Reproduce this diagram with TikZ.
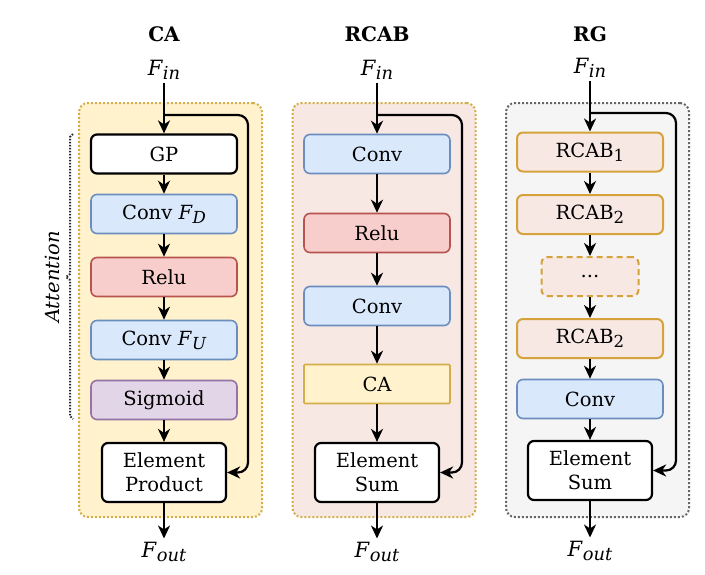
\documentclass[tikz,border=0pt]{standalone}
\usepackage{fontspec}
\setmainfont{DejaVu Serif}
\usepackage{tikz}
\usetikzlibrary{arrows.meta,positioning,backgrounds}

\definecolor{cafill}{HTML}{FFF2CC}
\definecolor{cadraw}{HTML}{D4AE4A}
\definecolor{rcabfill}{HTML}{F8E8E3}
\definecolor{rcabdraw}{HTML}{D6A23C}
\definecolor{rgfill}{HTML}{F5F5F5}
\definecolor{rgdraw}{HTML}{666666}
\definecolor{convfill}{HTML}{DAE8FC}
\definecolor{convdraw}{HTML}{6C8EBF}
\definecolor{relufill}{HTML}{F8CECC}
\definecolor{reludraw}{HTML}{B85450}
\definecolor{sigfill}{HTML}{E1D5E7}
\definecolor{sigdraw}{HTML}{9673A6}

% large subscripts
\newcommand{\bigsub}[1]{\raisebox{-0.4ex}{\scalebox{0.85}{#1}}}
\newcommand{\fvar}[2]{\textit{#1}\bigsub{\textit{#2}}}

\begin{document}
\begin{tikzpicture}[x=1pt,y=-1pt,
		font=\fontsize{19.5}{24}\selectfont,
		block/.style={draw,rounded corners=6pt,minimum width=146pt,minimum height=39pt,line width=1.6pt,inner sep=2pt},
		plain/.style={block,fill=white,line width=2.2pt},
		merge/.style={plain,align=center,minimum width=124pt,minimum height=59pt},
		conv/.style={block,fill=convfill,draw=convdraw},
		relu/.style={block,fill=relufill,draw=reludraw},
		sigm/.style={block,fill=sigfill,draw=sigdraw},
		cabox/.style={block,rounded corners=1pt,fill=cafill,draw=cadraw},
		rcab/.style={block,fill=rcabfill,draw=rcabdraw,line width=2pt},
		panel/.style={rounded corners=9pt,line width=2pt,dash pattern=on 2pt off 2pt,minimum width=183pt,minimum height=414pt},
		io/.style={font=\fontsize{21}{26}\selectfont},
		title/.style={font=\fontsize{20}{24}\selectfont\bfseries},
		flow/.style={-{Stealth[length=13pt,width=12pt,inset=4pt]},line width=2.2pt},
		attn/.style={line width=2pt,dash pattern=on 1.5pt off 1.5pt,draw=black!85}]
		\useasboundingbox (0,0) rectangle (705,574);
		
		% Draw panels
		\node[panel,fill=cafill,draw=cadraw] (capanel) at (170.5,310) {};
		\node[panel,fill=rcabfill,draw=cadraw] (rcabpanel) at (384,310) {};
		\node[panel,fill=rgfill,draw=rgdraw] (rgpanel) at (597.5,310) {};
		
		% CA
		\node[title] (catitle) at (164,34) {CA};
		\node[io] (cain) at (164,70) {\fvar{F}{in}};
		\node[plain] (gp) at (164,154) {GP};
		\node[conv] (convd) at (164,214) {Conv \fvar{F}{D}};
		\node[relu] (carelu) at (164,277) {Relu};
		\node[conv] (convu) at (164,340) {Conv \fvar{F}{U}};
		\node[sigm] (sigmoid) at (164,400) {Sigmoid};
		\node[merge] (prod) at (164,472.5) {Element\\Product};
		\node[io] (caout) at (164,552) {\fvar{F}{out}};
		\coordinate (caskip) at (164,115);
		\coordinate (caR) at (248,115);
		
		\foreach \a/\b in {cain/gp,gp/convd,convd/carelu,carelu/convu,convu/sigmoid,sigmoid/prod,prod/caout}
		\draw[flow] (\a) -- (\b);
		\draw[flow,rounded corners=10pt] (caskip) -- (caR) |- (prod.east);
		
		% Attention brace
		\draw[attn] (73,134) -- (70,137) -- (70,274) -- (66,277) -- (70,280) -- (70,416) -- (73,419);
		\node[rotate=90,font=\fontsize{19.5}{24}\selectfont\itshape] (attlabel) at (52,277) {Attention};
		
		% RCAB
		\node[title] (rcabtitle) at (377,34) {RCAB};
		\node[io] (rcabin) at (377,70) {\fvar{F}{in}};
		\node[conv] (rconv1) at (377,154) {Conv};
		\node[relu] (rrelu) at (377,233) {Relu};
		\node[conv] (rconv2) at (377,306) {Conv};
		\node[cabox] (rca) at (377,384) {CA};
		\node[merge] (rsum) at (377,472.5) {Element\\Sum};
		\node[io] (rcabout) at (377,552) {\fvar{F}{out}};
		\coordinate (rskip) at (377,115);
		\coordinate (rR) at (462,115);
		
		\foreach \a/\b in {rcabin/rconv1,rconv1/rrelu,rrelu/rconv2,rconv2/rca,rca/rsum,rsum/rcabout}
		\draw[flow] (\a) -- (\b);
		\draw[flow,rounded corners=10pt] (rskip) -- (rR) |- (rsum.east);
		
		% RG
		\node[title] (rgtitle) at (590,34) {RG};
		\node[io] (rgin) at (590,68) {\fvar{F}{in}};
		\node[rcab] (rcab1) at (590,152) {RCAB\bigsub{1}};
		\node[rcab] (rcab2) at (590,214.5) {RCAB\bigsub{2}};
		\node[rcab,dash pattern=on 6pt off 4pt,minimum width=97pt] (rdots) at (590,276.5) {...};
		\node[rcab] (rcabn) at (590,338.5) {RCAB\bigsub{2}};
		\node[conv] (gconv) at (590,399) {Conv};
		\node[merge] (gsum) at (590,470.5) {Element\\Sum};
		\node[io] (rgout) at (590,551) {\fvar{F}{out}};
		\coordinate (gskip) at (590,113);
		\coordinate (gR) at (676,113);
		
		\foreach \a/\b in {rgin/rcab1,rcab1/rcab2,rcab2/rdots,rdots/rcabn,rcabn/gconv,gconv/gsum,gsum/rgout}
		\draw[flow] (\a) -- (\b);
		\draw[flow,rounded corners=10pt] (gskip) -- (gR) |- (gsum.east);
		
\end{tikzpicture}
\end{document}
